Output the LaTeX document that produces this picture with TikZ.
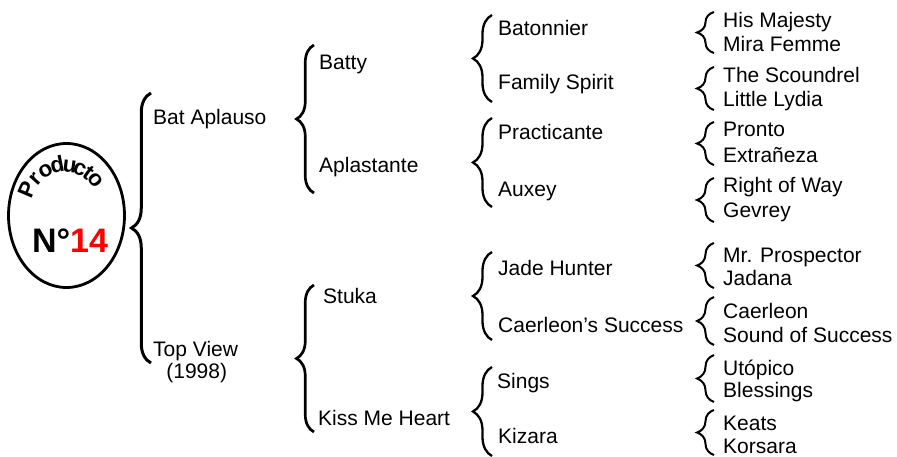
\documentclass[tikz,border=0pt]{standalone}
\usepackage{fontspec}
\setmainfont{Liberation Sans}
\usetikzlibrary{shapes.geometric,decorations.pathreplacing}
\begin{document}
\begin{tikzpicture}[x=1pt,y=-1pt,
    lbl/.style={anchor=base west,inner sep=0pt,font=\fontsize{21}{22}\selectfont},
    arcletter/.style={anchor=base,inner sep=0pt,font=\bfseries\fontsize{22.5}{22.5}\selectfont},
    bigbrace/.style={decorate,decoration={brace,amplitude=19.5pt},line width=3pt},
    midbrace/.style={decorate,decoration={brace,amplitude=17.5pt},line width=2.7pt},
    subbrace/.style={decorate,decoration={brace,amplitude=19pt},line width=2.3pt},
    smallbrace/.style={decorate,decoration={brace,amplitude=17pt},line width=2pt}]
  \useasboundingbox (0,0) rectangle (897,457);
  \node[draw,ellipse,line width=2.8pt,minimum width=116pt,minimum height=144pt,inner sep=0pt] (prod) at (66.5,215.5) {};
  \foreach \ch/\a [count=\i] in {P/203,r/222,o/240,d/259,u/277,c/292,t/306,o/321}
    \path (65,205) ++(\a:33) node[arcletter,rotate=270-\a] (letter\i) {\ch};
  \node[anchor=base,inner sep=0pt,font=\bfseries\fontsize{34}{34}\selectfont] (num) at (70,252) {N°\textcolor{red}{14}};
  \path
    (153,125) node[lbl] (bataplauso){Bat Aplauso}
    (153,356) node[lbl] (topview){Top View}
    (196.7,378) node[lbl,anchor=base] (year){(1998)}
    (319,70) node[lbl] (batty){Batty}
    (319,173) node[lbl] (aplastante){Aplastante}
    (323,303) node[lbl] (stuka){Stuka}
    (318,425) node[lbl] (kissme){Kiss Me Heart}
    (498,36) node[lbl] (batonnier){Batonnier}
    (498,90) node[lbl] (family){Family Spirit}
    (498,140) node[lbl] (practicante){Practicante}
    (498,197) node[lbl] (auxey){Auxey}
    (498,275) node[lbl] (jade){Jade Hunter}
    (498,332) node[lbl] (caerleons){Caerleon’s Success}
    (497,388) node[lbl] (sings){Sings}
    (498,443) node[lbl] (kizara){Kizara}
    (723,28) node[lbl] (majesty){His Majesty}
    (723,52) node[lbl] (mira){Mira Femme}
    (723,83) node[lbl] (scoundrel){The Scoundrel}
    (723,107) node[lbl] (lydia){Little Lydia}
    (723,137) node[lbl] (pronto){Pronto}
    (723,163) node[lbl] (extraneza){Extrañeza}
    (723,193) node[lbl] (rightway){Right of Way}
    (723,218) node[lbl] (gevrey){Gevrey}
    (723,262) node[lbl] (prospector){Mr. Prospector}
    (723,285) node[lbl] (jadana){Jadana}
    (723,318) node[lbl] (caerleon){Caerleon}
    (723,342) node[lbl] (sound){Sound of Success}
    (723,375) node[lbl] (utopico){Utópico}
    (723,397) node[lbl] (blessings){Blessings}
    (723,430) node[lbl] (keats){Keats}
    (723,453) node[lbl] (korsara){Korsara};
  \path
    (151,93) coordinate (r0t) (151,363) coordinate (r0b)
    (314,45) coordinate (r1t) (314,193) coordinate (r1b)
    (314,285) coordinate (r2t) (314,432) coordinate (r2b)
    (492,15) coordinate (s1t) (492,102) coordinate (s1b)
    (492,118) coordinate (s2t) (492,207) coordinate (s2b)
    (492,252) coordinate (s3t) (492,340) coordinate (s3b)
    (492,367) coordinate (s4t) (492,456) coordinate (s4b)
    (714,12) coordinate (t1t) (714,53) coordinate (t1b)
    (714,67) coordinate (t2t) (714,110) coordinate (t2b)
    (714,122) coordinate (t3t) (714,165) coordinate (t3b)
    (714,178) coordinate (t4t) (714,222) coordinate (t4b)
    (714,243) coordinate (t5t) (714,288) coordinate (t5b)
    (714,297) coordinate (t6t) (714,345) coordinate (t6b)
    (714,355) coordinate (t7t) (714,402) coordinate (t7b)
    (714,410) coordinate (t8t) (714,455) coordinate (t8b);
  \draw[bigbrace] (r0b) -- (r0t);
  \draw[midbrace] (r1b) -- (r1t);
  \draw[midbrace] (r2b) -- (r2t);
  \draw[subbrace] (s1b) -- (s1t);
  \draw[subbrace] (s2b) -- (s2t);
  \draw[subbrace] (s3b) -- (s3t);
  \draw[subbrace] (s4b) -- (s4t);
  \draw[smallbrace] (t1b) -- (t1t);
  \draw[smallbrace] (t2b) -- (t2t);
  \draw[smallbrace] (t3b) -- (t3t);
  \draw[smallbrace] (t4b) -- (t4t);
  \draw[smallbrace] (t5b) -- (t5t);
  \draw[smallbrace] (t6b) -- (t6t);
  \draw[smallbrace] (t7b) -- (t7t);
  \draw[smallbrace] (t8b) -- (t8t);
\end{tikzpicture}
\end{document}
